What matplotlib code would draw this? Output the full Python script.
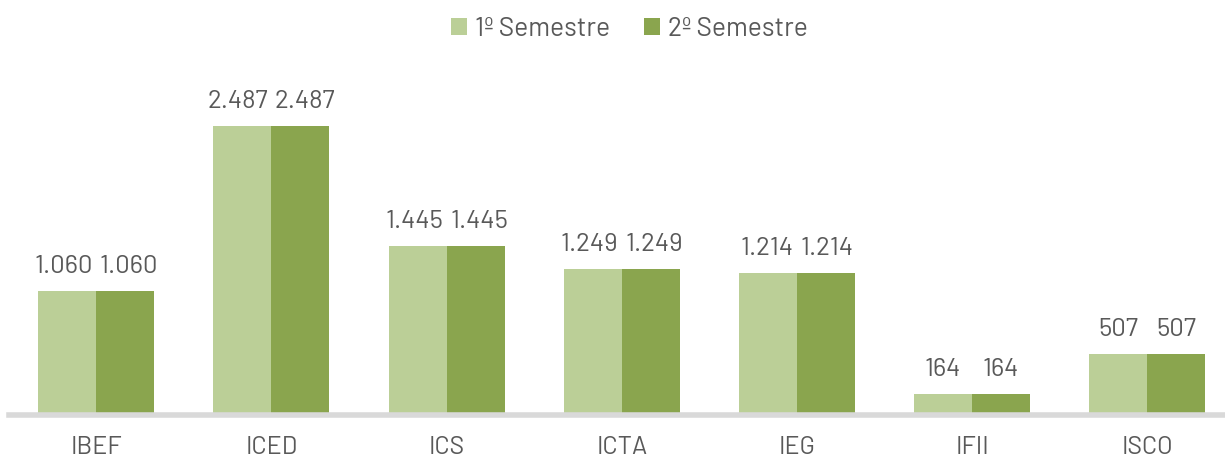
import matplotlib
matplotlib.use("Agg")
import matplotlib.pyplot as plt
import numpy as np

categories = ["IBEF", "ICED", "ICS", "ICTA", "IEG", "IFII", "ISCO"]
sem1 = [1060, 2487, 1445, 1249, 1214, 164, 507]
sem2 = [1060, 2487, 1445, 1249, 1214, 164, 507]
series_names = ["1º Semestre", "2º Semestre"]
labels1 = ["1.060", "2.487", "1.445", "1.249", "1.214", "164", "507"]
labels2 = ["1.060", "2.487", "1.445", "1.249", "1.214", "164", "507"]

plt.rcParams['font.family'] = ['Barlow', 'Roboto', 'DejaVu Sans']
TXT = "#595959"
C1 = "#BBCF97"
C2 = "#8AA54E"

W, H = 1225, 457
fig = plt.figure(figsize=(W / 100, H / 100), dpi=100)
left_px, right_px = 8.5, 1235.0
bottom_px, top_px = 412.7, 60.0
ax = fig.add_axes([left_px / W, 1 - bottom_px / H, (right_px - left_px) / W, (bottom_px - top_px) / H])

x = np.arange(len(categories))
bw = 0.331
b1 = ax.bar(x - bw / 2, sem1, bw, color=C1, label=series_names[0])
b2 = ax.bar(x + bw / 2, sem2, bw, color=C2, label=series_names[1])

ymax = (bottom_px - top_px) / 0.1152
ax.set_ylim(0, ymax)
ax.set_xlim(-0.5, len(categories) - 0.5)

pairs = []
for r1, r2, l1, l2 in zip(b1, b2, labels1, labels2):
    a1 = ax.annotate(l1, (r1.get_x() + r1.get_width() / 2, r1.get_height()),
                     xytext=(0, 13), textcoords="offset points",
                     ha="center", va="baseline", fontsize=18.5, color=TXT)
    a2 = ax.annotate(l2, (r2.get_x() + r2.get_width() / 2, r2.get_height()),
                     xytext=(0, 13), textcoords="offset points",
                     ha="center", va="baseline", fontsize=18.5, color=TXT)
    pairs.append((a1, a2, r1))

# push neighbouring labels apart when they would collide (like the original)
fig.canvas.draw()
renderer = fig.canvas.get_renderer()
for a1, a2, r1 in pairs:
    w1 = a1.get_window_extent(renderer).width
    w2 = a2.get_window_extent(renderer).width
    dist = ax.transData.transform((bw, 0))[0] - ax.transData.transform((0, 0))[0]
    need = (w1 + w2) / 2 + 7 - dist
    if need > 0:
        shift_pt = need / 2 * 72 / fig.dpi
        a1.set_position((-shift_pt, 13))
        a2.set_position((shift_pt, 13))

for s in ["top", "right", "left"]:
    ax.spines[s].set_visible(False)
ax.spines["bottom"].set_color("#D9D9D9")
ax.spines["bottom"].set_linewidth(4)
ax.spines["bottom"].set_position(("outward", 2))
ax.set_yticks([])
ax.set_xticks(x)
ax.set_xticklabels(categories, fontsize=18, color=TXT)
ax.tick_params(axis="x", length=0, pad=15)

fig.legend(handles=[b1, b2], labels=series_names, loc="center", ncol=2,
           bbox_to_anchor=(629.5 / W, 1 - 29 / H), frameon=False,
           fontsize=19, labelcolor=TXT, handlelength=0.6, handleheight=0.6,
           handletextpad=0.3, columnspacing=1.3, borderpad=0)

fig.savefig("out.png", dpi=100)
